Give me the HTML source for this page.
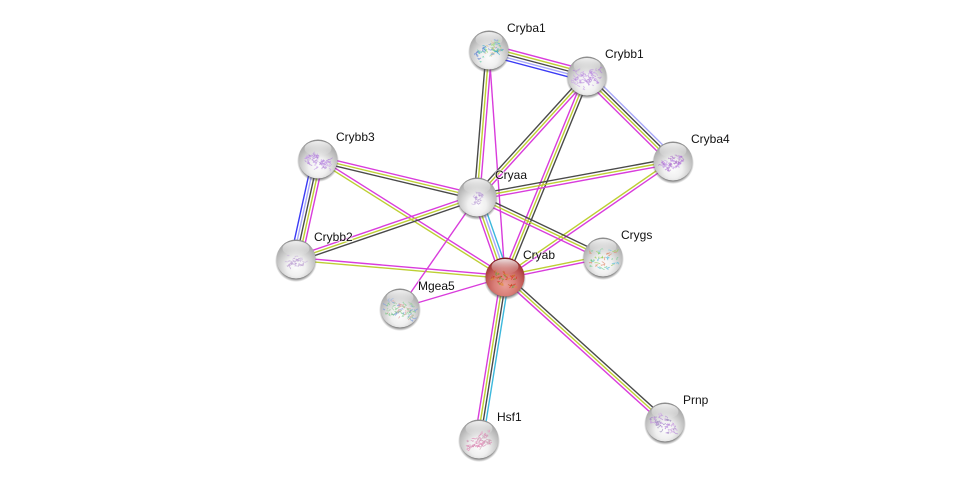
<!DOCTYPE html>
<html>
<head>
<meta charset="utf-8">
<style>
html,body{margin:0;padding:0;background:#fff;width:976px;height:484px;overflow:hidden}
svg{display:block}
text{font-family:"Liberation Sans",sans-serif;font-size:12px;fill:#111;paint-order:stroke;stroke:rgba(255,255,255,.55);stroke-width:2px}
</style>
</head>
<body>
<svg id="s" width="976" height="484" viewBox="0 0 976 484" xmlns="http://www.w3.org/2000/svg">
<defs>
<radialGradient id="g" cx="50%" cy="70%" r="68%">
<stop offset="0" stop-color="#fcfcfc"/><stop offset=".35" stop-color="#f0f0f0"/><stop offset=".65" stop-color="#cbcbcb"/><stop offset=".9" stop-color="#acacac"/><stop offset="1" stop-color="#8c8c8c"/>
</radialGradient>
<radialGradient id="r" cx="50%" cy="70%" r="68%">
<stop offset="0" stop-color="#eaa098"/><stop offset=".4" stop-color="#d97f78"/><stop offset=".7" stop-color="#bf5753"/><stop offset=".9" stop-color="#a03535"/><stop offset="1" stop-color="#7a1a1b"/>
</radialGradient>
<linearGradient id="h" x1="0" y1="0" x2="0" y2="1">
<stop offset="0" stop-color="#fff" stop-opacity=".85"/><stop offset=".6" stop-color="#fff" stop-opacity=".28"/><stop offset="1" stop-color="#fff" stop-opacity="0"/>
</linearGradient>
<radialGradient id="sh" cx="50%" cy="50%" r="50%">
<stop offset=".82" stop-color="#444" stop-opacity=".8"/><stop offset="1" stop-color="#666" stop-opacity="0"/>
</radialGradient>
<filter id="bl" x="-10%" y="-10%" width="120%" height="120%"><feGaussianBlur stdDeviation=".3"/></filter>
</defs>
<g id="e" fill="none"></g>
<g id="n"></g>
<text x="507" y="32">Cryba1</text>
<text x="605" y="58">Crybb1</text>
<text x="336" y="141">Crybb3</text>
<text x="495" y="179">Cryaa</text>
<text x="691" y="143">Cryba4</text>
<text x="314" y="241">Crybb2</text>
<text x="621" y="239">Crygs</text>
<text x="523" y="259">Cryab</text>
<text x="418" y="290">Mgea5</text>
<text x="497" y="421">Hsf1</text>
<text x="683" y="404">Prnp</text>
</svg>
<script>
var N={a1:[489,50],b1:[587,76],b3:[318,159],aa:[477,197],a4:[673,161],b2:[296,259],gs:[603,257],ab:[505,277],mg:[400,308],hs:[479,439],pr:[665,422]};
var m='#d93cdc',y='#bdcf33',d='#4a4a4a',l='#a8a8fa',b='#3a3af5',c='#3cb8dc';
var E=[
['a1','b1',[m,y,d,l,b]],['a1','aa',[m,y,d]],['a1','ab',[m]],
['aa','b1',[d,y,m]],['ab','b1',[m,y,d]],['b1','a4',[l,d,y,m]],
['aa','a4',[d,y,m]],['ab','a4',[y,m]],['b3','aa',[m,y,d]],['b3','ab',[m,y]],
['b2','b3',[b,l,d,y,m]],['b2','aa',[m,y,d]],['b2','ab',[m,y]],
['aa','gs',[d,y,m]],['ab','gs',[y,m]],['aa','ab',[c,l,y,m]],
['hs','ab',[m,y,d,c]],['ab','pr',[d,y,m]],['mg','aa',[m]],['mg','ab',[m]]];
var NS='http://www.w3.org/2000/svg';
function el(t,a,p){var e=document.createElementNS(NS,t);for(var k in a)e.setAttribute(k,a[k]);p.appendChild(e);return e}
var eg=document.getElementById('e'),ng=document.getElementById('n');
E.forEach(function(q){var A=N[q[0]],B=N[q[1]],dx=B[0]-A[0],dy=B[1]-A[1],L=Math.hypot(dx,dy),nx=dy/L,ny=-dx/L,k=q[2].length,sp=2.8;
q[2].forEach(function(col,i){var o=((k-1)/2-i)*sp;
el('line',{x1:A[0]+nx*o,y1:A[1]+ny*o,x2:B[0]+nx*o,y2:B[1]+ny*o,stroke:col,'stroke-width':1.4},eg)})});
var seed=7;function R(){seed=(seed*16807)%2147483647;return seed/2147483647}
var G={a1:['#66ccaa','#7799dd','#99dd77','#ddbb88','#33aacc','#5577cc'],b1:['#b080d8','#c8a0e8'],b3:['#b080d8','#c8a0e8'],aa:['#b090d0','#c8b0e0'],a4:['#b070d8','#c8a0e8','#b080c8'],b2:['#b898d0','#c8b0dc'],gs:['#55bbdd','#66cc88','#dd8866','#99cc55'],ab:['#d83020','#e09030','#c06020','#70a040'],mg:['#7799dd','#77cc88','#dd9999','#99cc99'],hs:['#e080b0','#d890b8','#c8a0b0'],pr:['#b080d8','#c898e0','#9988bb']};
var S={a1:[13,70,-.6,-1],b1:[13,60,0,0],b3:[13,60,.25,0],aa:[7,24,-.9,-1],a4:[11,60,-.5,0],b2:[8,28,0,0],gs:[14,40,0,0],ab:[13,40,.2,0],mg:[15,70,.2,0],hs:[13,55,-.35,0],pr:[14,50,.55,0]};
Object.keys(N).forEach(function(k){var x=N[k][0],Y=N[k][1],red=k==='ab';
el('circle',{cx:x,cy:Y+2,r:21,fill:'url(#sh)'},ng);
el('circle',{cx:x,cy:Y,r:19.5,fill:red?'url(#r)':'url(#g)'},ng);
var cols=G[k],sz=S[k],g=el('g',{filter:'url(#bl)'},ng),ang=sz[2];
for(var i=0;i<sz[1];i++){var u=(R()-.5)*sz[0]*2,v=(R()-.5)*sz[0]*(ang?0.9:1.3);
var px=x+u*Math.cos(ang)-v*Math.sin(ang),py=Y+2+sz[3]+u*Math.sin(ang)+v*Math.cos(ang),p='M'+px.toFixed(1)+' '+py.toFixed(1);
for(var j=0;j<3;j++){px+=(R()-.5)*4.5;py+=(R()-.5)*3.5;p+=' L'+px.toFixed(1)+' '+py.toFixed(1)}
el('path',{d:p,fill:'none',stroke:cols[i%cols.length],'stroke-width':.8,opacity:.7},g)}
el('ellipse',{cx:x,cy:Y-10.5,rx:13.5,ry:7.5,fill:'url(#h)'},ng);
});
</script>
</body>
</html>
